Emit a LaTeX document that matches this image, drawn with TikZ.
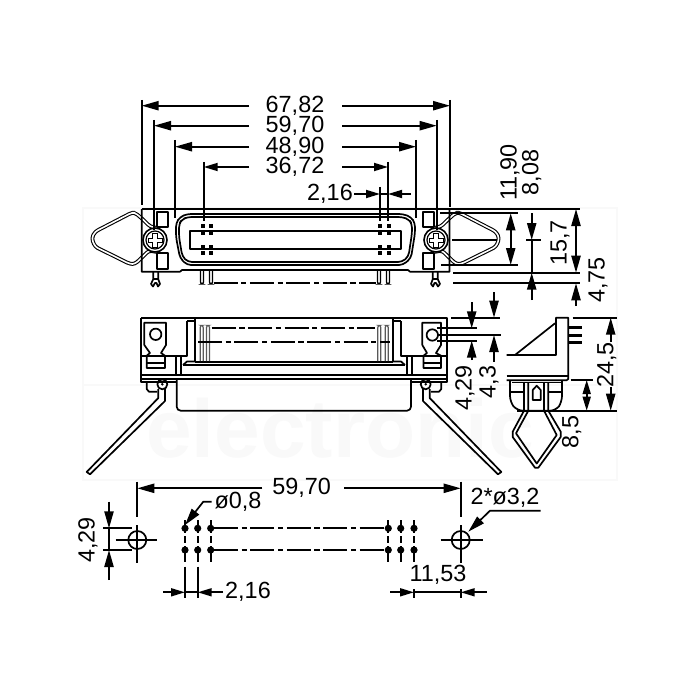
\documentclass[tikz,border=0pt]{standalone}
\usepackage{fontspec}
\setmainfont{Liberation Sans}
\usetikzlibrary{arrows.meta}
\tikzset{
 ln/.style={line width=0.85pt,line join=round},
 thick line/.style={line width=1.2pt},
 dim/.style={line width=0.85pt,-{Triangle[length=8.5pt,width=4.6pt]}},
 dimsm/.style={line width=0.85pt,-{Triangle[length=7pt,width=4pt]}},
 ctr/.style={line width=0.85pt,dash pattern=on 12pt off 1.8pt on 2.6pt off 1.8pt},
 wire/.style={line width=0.55pt,double,double distance=0.8pt,line join=round,rounded corners=1.5pt},
 lab/.style={inner sep=0pt,font=\fontsize{11.7}{12}\selectfont},
 labv/.style={lab,rotate=90},
 wm/.style={color=black!2.5}
}
\newcommand{\topside}{%
 \draw[wire] (157,228) -- (150,226.5) -- (141.7,218.3) -- (135,212.7) -- (131.7,212.7) -- (95,231.7) -- (91.7,238.3) -- (95,246.7) -- (130,264) -- (135,264) -- (142.7,256.7) -- (149,250.5) -- (157,252);
 \draw[ln,fill=white] (157.3,211.7) rectangle (168.3,227.3);
 \draw[ln,fill=white] (157.3,253.3) rectangle (168.3,269);
 \draw[line width=0.8pt,fill=white] (155,240) circle (12);
 \draw[line width=0.6pt] (155,240) circle (9);
 \draw[line width=0.5pt] (148,238) -- (152.6,238) -- (152.6,233) -- (157.4,233) -- (157.4,238) -- (162,238) -- (162,242) -- (157.4,242) -- (157.4,247) -- (152.6,247) -- (152.6,242) -- (148,242) -- cycle;
 \draw[ln] (153.3,272) -- (153.3,279) -- (151,284) -- (153,286.5) -- (155,283) -- (156.5,283) -- (158,286.5) -- (160,284) -- (158.2,279) -- (158.2,272);
 \draw[ln] (153,279) -- (158.5,279);
}
\newcommand{\frontside}{%
 \draw[ln,fill=white] (158.3,389) -- (158.3,398) -- (86.7,472) -- (90,474.3) -- (165,401) -- (165,389);
 \draw[ln] (146.7,382) -- (146.7,389) -- (149,391.7) -- (157,391.7);
 \draw[ln,fill=white] (162.3,384.3) circle (5);
 \fill (162.3,384.3) circle (1.4);
 \draw[ln] (176,355.7) -- (176,375) (181,355.7) -- (181,375);
 \draw[ln] (183,365) -- (187,361.5) -- (195,361.5);
 \draw[ln] (187.3,321) -- (187.3,355.7) -- (176,355.7);
 \draw[ln] (195,317.7) -- (195,361.5);
 \draw[ln] (187.3,321) -- (195,321);
 \draw[ln] (141,355.7) -- (176,355.7);
}
\begin{document}
\begin{tikzpicture}[x=0.5pt,y=-0.5pt]
\useasboundingbox (0,0) rectangle (700,700);
\fill[white] (0,0) rectangle (700,700);
% watermark
\draw[wm,line width=0.8pt] (83,208) rectangle (617,480);
\draw[wm,line width=0.8pt] (83,385) -- (617,385);
\node[inner sep=0pt,text=black!2.5] (wmtext) at (340,428) {\fontsize{41}{42}\selectfont\bfseries electronic};

% ---------- top view
\topside
\begin{scope}[shift={(591,0)},xscale=-1]\topside\end{scope}
\draw[ln] (141.7,209) -- (580,209);
\draw[ln] (141.7,209) -- (141.7,271.7) -- (180,271.7) -- (182,270) -- (408,270) -- (410,271.7) -- (449.5,271.7) -- (449.5,209);
\draw[ln,rounded corners=2pt] (187,214) -- (403,214) -- (411,217) -- (415,223) -- (415,233) -- (411,258) -- (403,265) -- (187,265) -- (180,258) -- (176,237) -- (176,223) -- (180,217) -- cycle;
\draw[ln,rounded corners=2pt] (187.5,217) -- (402.5,217) -- (409,219.5) -- (412,224) -- (412,233) -- (408.5,256.5) -- (402,262) -- (188,262) -- (182.3,256.5) -- (179,237) -- (179,224) -- (182,219.5) -- cycle;
\draw[ln] (190,230.7) rectangle (401,249);
\foreach \px in {202.7,211,380,388.7}{
 \foreach \py in {226,232.7,246.7,253}{
  \fill (\px-1.8,\py-1.8) rectangle (\px+1.8,\py+1.8);
 }
}
\foreach \px in {202,211,379,388}{
 \draw[line width=0.65pt,rounded corners=1pt] (\px-1.5,270) -- (\px-1.5,284) -- (\px+1.5,284) -- (\px+1.5,270);
}
\draw[ctr] (213.5,283.3) -- (376,283.3);
% extension lines top
\draw[ln] (141.7,100) -- (141.7,205);
\draw[ln] (154,120) -- (154,230);
\draw[ln] (175,140) -- (175,218);
\draw[ln] (203.7,162) -- (203.7,221);
\draw[ln] (450,100) -- (450,207);
\draw[ln] (436.7,120) -- (436.7,230);
\draw[ln] (416,140) -- (416,218);
\draw[ln] (388,162) -- (388,221);
\draw[ln] (380,187) -- (380,221);
% horizontal dims
\draw[dim] (249,105.7) -- (141.7,105.7);
\draw[dim] (342,105.7) -- (450,105.7);
\draw[dim] (249,125.7) -- (154,125.7);
\draw[dim] (342,125.7) -- (436.7,125.7);
\draw[dim] (249,146.7) -- (175,146.7);
\draw[dim] (342,146.7) -- (416,146.7);
\draw[dimsm] (249,167) -- (203.7,167);
\draw[dimsm] (342,167) -- (388,167);
\draw[dimsm] (354,194) -- (380,194);
\draw[dimsm] (411,194) -- (388,194);
\draw[ln] (380,194) -- (388,194);
\node[lab] (t1) at (295,106) {67,82};
\node[lab] (t2) at (295,126) {59,70};
\node[lab] (t3) at (295,147) {48,90};
\node[lab] (t4) at (295,167) {36,72};
\node[lab] (t5) at (330,194) {2,16};
% right ext lines
\draw[ln] (440,213.3) -- (517.7,213.3);
\draw[ln] (441,265) -- (517.7,265);
\draw[ln] (453,272.7) -- (580,272.7);
\draw[ln] (453,283.3) -- (580,283.3);
\draw[ln] (452,240) -- (497,240);
\draw[ln] (526,240) -- (541,240);
% vertical dims
\draw[dim] (510.7,240) -- (510.7,213.3);
\draw[dim] (510.7,240) -- (510.7,265);
\draw[dim] (531.7,213.3) -- (531.7,240);
\draw[ln] (531.7,240) -- (531.7,272.7);
\draw[dim] (531.7,300) -- (531.7,272.7);
\draw[dim] (576,240) -- (576,209);
\draw[dim] (576,240) -- (576,272.7);
\draw[dim] (576,306) -- (576,283.3);
\node[labv] (t6) at (510,172.5) {11,90};
\node[labv] (t7) at (531.7,172.5) {8,08};
\node[labv] (t8) at (560,243) {15,7};
\node[labv] (t9) at (598,280) {4,75};

% ---------- front view
\frontside
\begin{scope}[shift={(588,0)},xscale=-1]\frontside\end{scope}
\draw[ln] (141,317.7) -- (447.3,317.7) -- (447.3,382) -- (411,382);
\draw[ln] (141,317.7) -- (141,382) -- (176.7,382);
\draw[thick line] (141,375) -- (447.3,375);
\draw[thick line] (141,379.2) -- (447.3,379.2);
\draw[ln,rounded corners=2pt] (176.7,379) -- (176.7,410.7) -- (411,410.7) -- (411,379);
\draw[ln] (195,361.7) -- (393,361.7);
\draw[ln] (183,365) -- (405,365);
% terminals
\draw[ln] (144.3,322.7) -- (166,322.7) -- (166,345) -- (161,353) -- (165,355.7) -- (165,368) -- (146.7,368) -- (146.7,355.7) -- (150,353) -- (144.3,345) -- cycle;
\draw[ln] (146.7,363.3) -- (165,363.3);
\draw[ln] (155.7,334.3) circle (5.7);
\draw[ln] (422.3,322.7) -- (441,322.7) -- (441,345) -- (436,353) -- (441,355.7) -- (441,368) -- (423.5,368) -- (423.5,355.7) -- (427,353) -- (422.3,345) -- cycle;
\draw[ln] (423.5,363.3) -- (441,363.3);
\draw[ln] (432.3,335) circle (5.7);
% pins
\foreach \px in {201.7,208,379.3,386.7}{
 \draw[line width=0.6pt,draw=black!65,rounded corners=1pt] (\px-1.5,361) -- (\px-1.5,325.5) -- (\px+1.5,325.5) -- (\px+1.5,361);
}
\draw[ctr] (211.7,328.3) -- (375,328.3);
\draw[ctr] (198,341.7) -- (390,341.7);
% side ext
\draw[ln] (451,317.7) -- (500,317.7);
\draw[ln] (437,328.3) -- (477,328.3);
\draw[ln] (437,335) -- (500.7,335);
\draw[ln] (437,340.7) -- (477,340.7);
\draw[dim] (494,292) -- (494,317.7);
\draw[dim] (494,361.7) -- (494,335);
\draw[dim] (471.7,302) -- (471.7,328.3);
\draw[dim] (471.7,360) -- (471.7,340.7);
\node[labv] (t10) at (465,388) {4,29};
\node[labv] (t11) at (489,382) {4,3};

% ---------- side view
\draw[ln] (506.7,355) -- (556,355) -- (556,317.7) -- (568.3,317.7) -- (568.3,379) -- (566.7,380.2) -- (506.7,380.2);
\draw[ln] (515,355) -- (555,323.3);
\draw[ln] (506.7,375.7) -- (568.3,375.7);
\foreach \py in {327.3,335,342.3}{
 \draw[line width=1.5pt] (568.3,\py) -- (582,\py);
}
\draw[ln,rounded corners=3pt] (510,380) -- (510,402) -- (517,410.7) -- (556,410.7) -- (562,402) -- (562,380);
\draw[ln] (512,382.5) -- (561,382.5);
\draw[ln] (510,391.7) -- (524,391.7) (548.3,391.7) -- (562,391.7);
\draw[ln] (524,382.5) -- (524,410.7) -- (512.7,431.7) -- (512.7,437) -- (535,467.7) -- (538.3,467.7) -- (560.7,437) -- (560.7,431.7) -- (548.3,410.7) -- (548.3,382.5);
\draw[ln] (528.3,382.5) -- (528.3,410.7) -- (516,433.3) -- (536.7,463.5) -- (556.7,435) -- (544,410.7) -- (544,382.5);
\draw[ln] (532.7,400) -- (532.7,390) -- (536.7,385.7) -- (540.7,390) -- (540.7,400) -- cycle;
% side dims
\draw[ln] (572.7,317.7) -- (617,317.7);
\draw[ln] (517,410.7) -- (617,410.7);
\draw[ln] (570.7,380) -- (593,380);
\draw[dim] (610.7,342) -- (610.7,317.7);
\draw[dim] (610.7,387) -- (610.7,410.7);
\draw[dimsm] (586.7,395.3) -- (586.7,380);
\draw[dimsm] (586.7,395.3) -- (586.7,410.7);
\node[labv] (t12) at (606.7,365) {24,5};
\node[labv] (t13) at (571.7,432) {8,5};

% ---------- footprint
\draw[ln] (137.3,481.7) -- (137.3,516.7);
\draw[ln] (460.7,481.7) -- (460.7,516.7);
\draw[dim] (262.3,488.3) -- (137.3,488.3);
\draw[dim] (344,488.3) -- (460.7,488.3);
\node[lab] (t14) at (301.7,488) {59,70};
\draw[ln] (137.3,540) circle (9);
\draw[ln] (460.7,540) circle (9);
\draw[ln] (115.7,540) -- (157.3,540);
\draw[ln] (137.3,525) -- (137.3,563);
\draw[ln] (440.7,540) -- (482.7,540);
\draw[ln] (460.7,525) -- (460.7,563);
% holes
\foreach \px in {185,197.7,210.7,388.3,400.7,414}{
 \fill (\px,528.3) circle (3.6);
 \fill (\px,550) circle (3.6);
 \draw[ln] (\px,520) -- (\px,533);
 \draw[ln] (\px,536) -- (\px,543);
 \draw[ln] (\px,546) -- (\px,561.7);
}
\draw[ctr] (214,528.3) -- (385,528.3);
\draw[ctr] (214,550) -- (385,550);
% leaders
\draw[dim] (211.7,501.7) -- (203.3,501.7) -- (185,525);
\node[lab] (t15) at (238,501.7) {ø0,8};
\draw[dim] (540.7,510.7) -- (490,510.7) -- (468.3,531.7);
\node[lab] (t16) at (505,497.7) {2*ø3,2};
% 2,16
\draw[ln] (185,566.7) -- (185,598);
\draw[ln] (197.7,566.7) -- (197.7,598);
\draw[dimsm] (163.3,592.3) -- (185,592.3);
\draw[dimsm] (223,592.3) -- (197.7,592.3);
\draw[ln] (185,592.3) -- (197.7,592.3);
\node[lab] (t17) at (248,592) {2,16};
% 11,53
\draw[ln] (414,589) -- (414,598);
\draw[ln] (460.7,589) -- (460.7,598);
\draw[dimsm] (390,592.3) -- (414,592.3);
\draw[dimsm] (486.7,592.3) -- (460.7,592.3);
\draw[ln] (414,592.3) -- (460.7,592.3);
\node[lab] (t18) at (438,575) {11,53};
% 4,29 left
\draw[ln] (103,528.3) -- (132.3,528.3);
\draw[ln] (103,550) -- (132.3,550);
\draw[dim] (109,501.7) -- (109,528.3);
\draw[dim] (109,580) -- (109,550);
\draw[ln] (109,528.3) -- (109,550);
\node[labv] (t19) at (88,540) {4,29};
\end{tikzpicture}
\end{document}
